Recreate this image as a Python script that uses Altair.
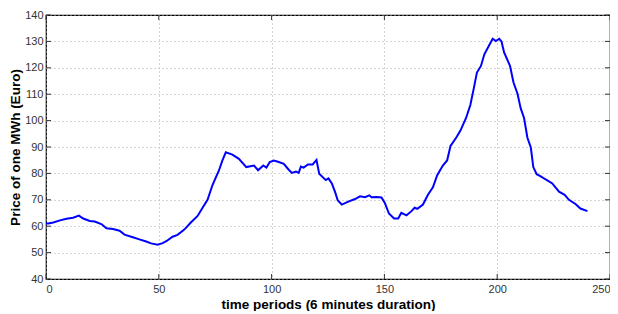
import altair as alt
import pandas as pd

# time period (x) and price (y)
periods = [0, 1, 3.2, 6.2, 9.1, 12, 14.6, 16.5, 19.4, 21.6, 24.5, 26.8, 29.7, 32.6, 34.8,
           38.5, 41.4, 44.4, 46.6, 49.5, 51.7, 53.5, 56.1, 58.3, 61.3, 64.2, 67.2, 69.4,
           71.6, 73.8, 76.7, 78.2, 79.7, 82.6, 85.5, 88.8, 92.2, 94.0, 96.3, 97.7, 99.2,
           101, 103.2, 105.4, 107.6, 109, 110.8, 112, 113, 114.2, 116.1, 118.2, 119.9,
           121.1, 123, 124, 125.2, 126.7, 128.2, 129.3, 131.1, 134, 137, 139.2, 141.4,
           143.3, 144.3, 146.5, 148.7, 150.2, 152, 154.3, 156.1, 157.5, 159.8, 162,
           163.4, 164.6, 167.1, 169.3, 171.5, 173.4, 175.9, 177.8, 179.3, 181.8, 183.7,
           186.2, 188.1, 189.6, 191, 192.8, 194.3, 196.5, 198, 199.4, 200.9, 201.9,
           203.1, 205.7, 207.2, 209, 210.4, 211.9, 213.4, 214.9, 216, 217.5, 219.3,
           221.5, 224.4, 227.4, 229.9, 231.8, 234.7, 236.9, 240]
prices = [61.0, 61.0, 61.4, 62.2, 62.8, 63.2, 64.0, 62.9, 62.0, 61.8, 60.8, 59.2, 58.9, 58.3,
          56.8, 55.8, 55.0, 54.2, 53.5, 53.0, 53.6, 54.4, 56.0, 56.7, 58.7, 61.4, 63.9,
          67.0, 70.0, 75.6, 81.2, 84.9, 88.0, 87.1, 85.5, 82.4, 83.0, 81.2, 83.0, 82.2,
          84.3, 84.9, 84.3, 83.6, 81.4, 80.2, 80.7, 80.2, 82.6, 82.2, 83.4, 83.4, 85.1,
          79.9, 78.3, 77.5, 78.1, 76.2, 72.8, 69.8, 68.2, 69.3, 70.3, 71.3, 71.0, 71.7,
          71.0, 71.1, 70.9, 68.8, 64.8, 62.9, 62.9, 65.1, 64.1, 65.7, 67.0, 66.6, 68.2,
          71.9, 74.7, 79.3, 83.0, 84.9, 90.4, 93.5, 96.2, 101.0, 105.9, 112.1, 118.2,
          120.7, 125.1, 128.6, 131.0, 130.1, 131.0, 130.0, 125.7, 120.7, 114.5, 110.2,
          104.7, 101.0, 93.5, 89.8, 82.4, 79.7, 78.9, 77.7, 76.2, 73.1, 71.9, 70.0,
          68.4, 66.7, 65.7]

x_ticks = [0, 50, 100, 150, 200, 250]
y_ticks = [40, 50, 60, 70, 80, 90, 100, 110, 120, 130, 140]

W, H = 564, 264
FONT = "Liberation Sans"

df = pd.DataFrame({"t": periods, "p": prices})
xt = pd.DataFrame({"t": x_ticks})
yt = pd.DataFrame({"p": y_ticks})

xscale = alt.Scale(domain=[0, 250], nice=False, zero=False)
yscale = alt.Scale(domain=[40, 140], nice=False, zero=False)
xaxis = alt.Axis(values=x_ticks, title="time periods (6 minutes duration)", ticks=False,
                 labelPadding=4, titlePadding=3, grid=True)
yaxis = alt.Axis(values=y_ticks, title="Price of one MWh (Euro)", ticks=False,
                 labelPadding=3, titlePadding=2, grid=True)

line = alt.Chart(df).mark_line(color="#0000FF", strokeWidth=2, clip=True).encode(
    x=alt.X("t:Q", scale=xscale, axis=xaxis),
    y=alt.Y("p:Q", scale=yscale, axis=yaxis),
)

tick_len = 5
bottom = alt.Chart(xt).mark_rule(color="#333", strokeWidth=1).encode(
    x=alt.X("t:Q", scale=xscale, axis=xaxis), y=alt.value(H), y2=alt.value(H - tick_len))
top = alt.Chart(xt).mark_rule(color="#333", strokeWidth=1).encode(
    x=alt.X("t:Q", scale=xscale, axis=xaxis), y=alt.value(0), y2=alt.value(tick_len))
left = alt.Chart(yt).mark_rule(color="#333", strokeWidth=1).encode(
    y=alt.Y("p:Q", scale=yscale, axis=yaxis), x=alt.value(0), x2=alt.value(tick_len))
right = alt.Chart(yt).mark_rule(color="#333", strokeWidth=1).encode(
    y=alt.Y("p:Q", scale=yscale, axis=yaxis), x=alt.value(W), x2=alt.value(W - tick_len))

chart = alt.layer(line, bottom, top, left, right).properties(
    width=W, height=H,
    background="white",
    autosize=alt.AutoSizeParams(type="none"),
    padding={"left": 38, "top": 7, "right": 0, "bottom": 32},
).configure_view(stroke="#000", strokeWidth=1.2).configure_axis(
    labelFont=FONT, labelFontSize=11, labelColor="#333",
    titleFont=FONT, titleFontSize=13.5, titleFontWeight="bold", titleColor="#000",
    domain=False, gridColor="#aaa", gridDash=[1, 3], gridWidth=1,
)

chart.save("out.html", embed_options={"renderer": "svg", "actions": False})
